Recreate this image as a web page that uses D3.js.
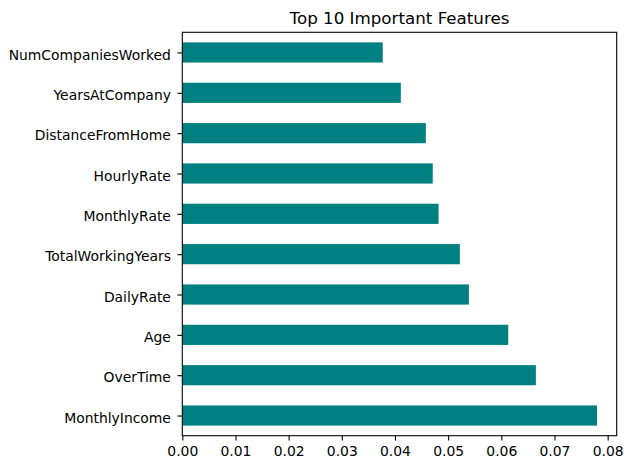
<!DOCTYPE html>
<html><head><meta charset="utf-8">
<script src="https://cdn.jsdelivr.net/npm/d3@7"></script>
<style>body{margin:0;background:#fff;} text{font-family:"DejaVu Sans",sans-serif;fill:#000;}</style>
</head><body>
<svg id="c" width="631" height="470"></svg>
<script>
const features = ["MonthlyIncome","OverTime","Age","DailyRate","TotalWorkingYears","MonthlyRate","HourlyRate","DistanceFromHome","YearsAtCompany","NumCompaniesWorked"];
const importances = [0.0780, 0.0665, 0.0613, 0.0539, 0.0522, 0.0482, 0.0471, 0.0458, 0.0411, 0.0377];
const xTicks = [0,0.01,0.02,0.03,0.04,0.05,0.06,0.07,0.08];
const title = "Top 10 Important Features";

const svg = d3.select("#c");
const L=182.3, R=616.7, T=32.3, B=435.7;
const x = d3.scaleLinear().domain([0,0.0817]).range([L,R]);
const y = d3.scaleLinear().domain([-0.5, features.length-0.5]).range([B,T]);
const barH = (B-T)/features.length*0.5;

svg.append("g").selectAll("rect").data(features).join("rect")
  .attr("x", x(0))
  .attr("y", (d,i)=>y(i)-barH/2)
  .attr("width", (d,i)=>x(importances[i])-x(0))
  .attr("height", barH)
  .attr("fill","#008080");

const xa = svg.append("g").attr("transform",`translate(0,${B})`)
  .call(d3.axisBottom(x).tickValues(xTicks).tickFormat(d3.format(".2f")).tickSizeOuter(0).tickSize(4.9).tickPadding(5.5));
xa.select(".domain").remove();
xa.selectAll("line").attr("stroke","#000").attr("stroke-width",1.1);
xa.selectAll("text").attr("font-size","13.9px").attr("fill","#000").attr("font-family","DejaVu Sans");

const ya = svg.append("g").attr("transform",`translate(${L},0)`)
  .call(d3.axisLeft(y).tickValues(d3.range(features.length)).tickFormat(i=>features[i]).tickSizeOuter(0).tickSize(4.9).tickPadding(6.5));
ya.select(".domain").remove();
ya.selectAll("line").attr("stroke","#000").attr("stroke-width",1.1);
ya.selectAll("text").attr("font-size","13.9px").attr("fill","#000").attr("font-family","DejaVu Sans").attr("dy","0.47em");

svg.append("rect").attr("x",L).attr("y",T).attr("width",R-L).attr("height",B-T)
  .attr("fill","none").attr("stroke","#000").attr("stroke-width",1.1);

svg.append("text").attr("x",(L+R)/2).attr("y",T-8).attr("text-anchor","middle")
  .attr("font-size","16.7px").text(title);
</script>
</body></html>
